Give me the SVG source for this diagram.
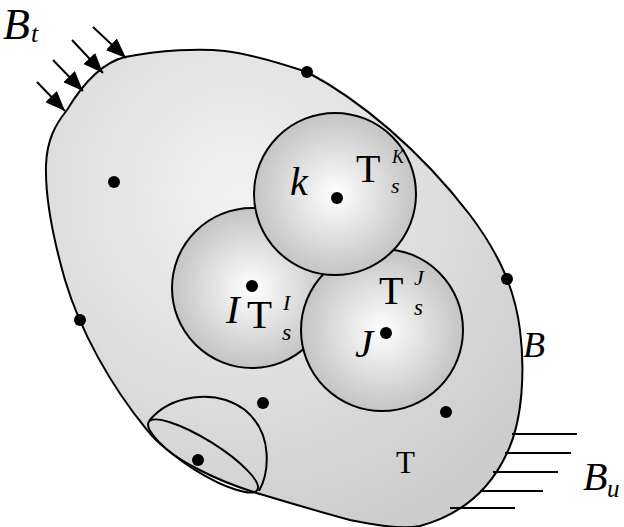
<svg xmlns="http://www.w3.org/2000/svg" width="624" height="527" viewBox="0 0 624 527">
<defs>
<radialGradient id="gBody" cx="0.4" cy="0.3" r="0.75">
<stop offset="0" stop-color="#f2f2f2"/>
<stop offset="1" stop-color="#cdcdcd"/>
</radialGradient>
<radialGradient id="gBall" cx="0.5" cy="0.5" r="0.5">
<stop offset="0" stop-color="#ffffff"/>
<stop offset="1" stop-color="#c4c4c4"/>
</radialGradient>
<marker id="arr" viewBox="0 0 20 16" refX="20" refY="8" markerWidth="20" markerHeight="16" orient="auto" markerUnits="userSpaceOnUse">
<path d="M0,0 L20,8 L0,16 Z" fill="#000"/>
</marker>
<style>
.ol{stroke:#000;stroke-width:2;fill:none}
.dot{fill:#000}
.t{font-family:'Liberation Serif','Times New Roman',serif;fill:#000}
.it{font-style:italic}
</style>
</defs>
<g id="body">
<path d="M67,110 C85,80 105,62 125,57 C160,50 200,48 225,51 C250,54 280,63 307,72 C360,100 420,150 470,215 C500,255 515,290 520,330 C525,370 523,420 507,453 C490,490 460,515 420,526 C400,530 370,524 350,520 C320,512 290,503 260,494 C220,482 170,460 147,430 C110,385 80,330 65,280 C55,245 45,200 46,165 C47,140 55,125 67,110 Z" fill="url(#gBody)" stroke="#000" stroke-width="2"/>
</g>
<g id="ballI"><circle cx="252" cy="288" r="80" fill="url(#gBall)" stroke="#000" stroke-width="2"/></g>
<g id="ballJ"><circle cx="382" cy="330" r="81" fill="url(#gBall)" stroke="#000" stroke-width="2"/></g>
<g id="ballK"><circle cx="335" cy="194" r="81" fill="url(#gBall)" stroke="#000" stroke-width="2"/></g>
<g id="hemi">
<ellipse cx="203" cy="456" rx="64" ry="16" transform="rotate(32 203 456)" fill="none" stroke="#000" stroke-width="2"/>
<path d="M149,421 C170,395 215,388 245,410 C275,435 268,475 259,491" class="ol"/>
</g>
<g id="dots">
<circle class="dot" cx="307" cy="72" r="6"/>
<circle class="dot" cx="114" cy="182" r="6"/>
<circle class="dot" cx="80" cy="320" r="6"/>
<circle class="dot" cx="507" cy="279" r="6"/>
<circle class="dot" cx="263" cy="403" r="6"/>
<circle class="dot" cx="446" cy="412" r="6"/>
<circle class="dot" cx="198" cy="460" r="6"/>
<circle class="dot" cx="337" cy="198" r="6"/>
<circle class="dot" cx="252" cy="286" r="6"/>
<circle class="dot" cx="386" cy="333" r="6"/>
</g>
<g id="connectors" stroke="#000" stroke-width="2">
<line x1="37" y1="82" x2="65" y2="111" marker-end="url(#arr)"/>
<line x1="53" y1="60" x2="83" y2="91" marker-end="url(#arr)"/>
<line x1="72" y1="40" x2="103" y2="73" marker-end="url(#arr)"/>
<line x1="93" y1="27" x2="126" y2="58" marker-end="url(#arr)"/>
<line x1="512" y1="434" x2="577" y2="434"/>
<line x1="505" y1="453" x2="571" y2="453"/>
<line x1="493" y1="472" x2="558" y2="472"/>
<line x1="480" y1="491" x2="543" y2="491"/>
<line x1="450" y1="508" x2="515" y2="508"/>
</g>
<g id="labels">
<text class="t it" x="3" y="39" font-size="44">B</text>
<text class="t it" x="31" y="42" font-size="26">t</text>
<text class="t it" x="523" y="357" font-size="36">B</text>
<text class="t it" x="583" y="490" font-size="40">B</text>
<text class="t it" x="607" y="497" font-size="25">u</text>
<text class="t" x="396" y="473" font-size="31">T</text>
<text class="t it" x="290" y="195" font-size="40">k</text>
<text class="t" x="356" y="182" font-size="40">T</text>
<text class="t it" x="392" y="163" font-size="18">K</text>
<text class="t it" x="391" y="193" font-size="22">s</text>
<text class="t it" x="226" y="323" font-size="41">I</text>
<text class="t" x="247" y="328" font-size="41">T</text>
<text class="t it" x="283" y="310" font-size="22">I</text>
<text class="t it" x="282" y="340" font-size="24">s</text>
<text class="t" x="379" y="304" font-size="40">T</text>
<text class="t it" x="414" y="285" font-size="22">J</text>
<text class="t it" x="414" y="315" font-size="23">s</text>
<text class="t it" x="355" y="357" font-size="41">J</text>
</g>
</svg>
